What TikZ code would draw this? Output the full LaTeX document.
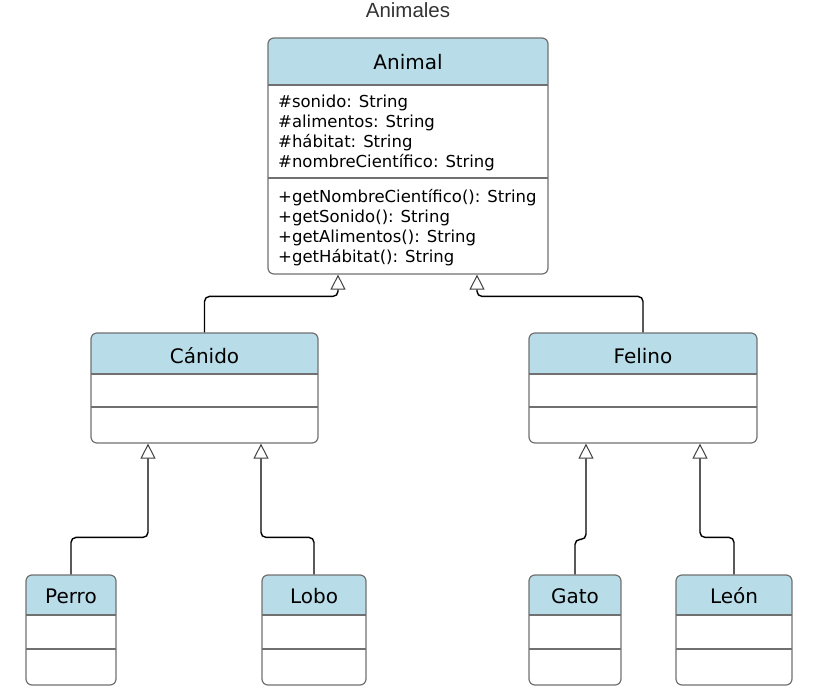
\documentclass[tikz,border=0pt]{standalone}
\usepackage{fontspec}
\setmainfont{DejaVu Sans}
\newfontfamily\titlefont{Liberation Sans}
\usetikzlibrary{arrows.meta,calc}
\definecolor{hdrblue}{HTML}{B8DDE8}
\definecolor{boxgray}{HTML}{707070}
\definecolor{titlegray}{HTML}{333333}
\newcommand\umlclass[7]{%
  \begin{scope}
    \clip[rounded corners=6pt] (#2,#3) rectangle (#4,#5);
    \fill[hdrblue] (#2,#3) rectangle (#4,#6);
  \end{scope}
  \draw[sepline] (#2,#6) -- (#4,#6);
  \draw[sepline] (#2,#7) -- (#4,#7);
  \node[classbox, minimum width={#4-#2}, minimum height={#5-#3}] (#1) at ({(#2+#4)/2},{(#3+#5)/2}) {};
}
\begin{document}
\begin{tikzpicture}[x=1pt,y=-1pt,
  classbox/.style={draw=boxgray, line width=1.2pt, rounded corners=6pt, inner sep=0pt},
  sepline/.style={draw=boxgray, line width=1.2pt},
  hdrtext/.style={font=\fontsize{20}{24}\selectfont, anchor=base, inner sep=0pt},
  membertext/.style={font=\fontsize{16.5}{20}\selectfont, anchor=base west, inner sep=0pt},
  inherit/.style={draw=black, line width=1.4pt, rounded corners=5pt, -{Triangle[open, length=15pt, width=15pt, line width=1pt, color=black!75]}},
]
\useasboundingbox (0,0) rectangle (816,692);

\node[font=\titlefont\fontsize{20.5}{23}\selectfont, text=titlegray, anchor=base, inner sep=0pt] (title) at (408,18) {Animales};

\umlclass{animal}{268}{38}{548}{274}{85}{178}
\umlclass{canido}{91}{333}{318}{443}{374}{407}
\umlclass{felino}{529}{333}{757}{443}{374}{407}
\umlclass{perro}{26}{575}{116}{685}{615}{649}
\umlclass{lobo}{262}{575}{366}{685}{615}{649}
\umlclass{gato}{529}{575}{621}{685}{615}{649}
\umlclass{leon}{676}{575}{792}{685}{615}{649}

\node[hdrtext] (animalname) at (408,70) {Animal};
\node[hdrtext] (canidoname) at (204.5,363) {Cánido};
\node[hdrtext] (felinoname) at (643,363) {Felino};
\node[hdrtext] (perroname) at (71,603) {Perro};
\node[hdrtext] (loboname) at (314,603) {Lobo};
\node[hdrtext] (gatoname) at (575,603) {Gato};
\node[hdrtext] (leonname) at (734,603) {León};

\node[membertext] (a1) at (278,108) {\#sonido: String};
\node[membertext] (a2) at (278,128) {\#alimentos: String};
\node[membertext] (a3) at (278,148) {\#hábitat: String};
\node[membertext] (a4) at (278,168) {\#nombreCientífico: String};
\node[membertext] (m1) at (278,203) {+getNombreCientífico(): String};
\node[membertext] (m2) at (278,223) {+getSonido(): String};
\node[membertext] (m3) at (278,243) {+getAlimentos(): String};
\node[membertext] (m4) at (278,263) {+getHábitat(): String};

\draw[inherit] (canido.north) -- ++(0,-36) -| ($(animal.south)+(-70,0)$);
\draw[inherit] (felino.north) -- ++(0,-36) -| ($(animal.south)+(69,0)$);
\draw[inherit] (perro.north) -- ++(0,-37) -| ($(canido.south)+(-56.5,0)$);
\draw[inherit] (lobo.north) -- ++(0,-37) -| ($(canido.south)+(56.5,0)$);
\draw[inherit] (gato.north) -- ++(0,-35) -| ($(felino.south)+(-57,0)$);
\draw[inherit] (leon.north) -- ++(0,-37) -| ($(felino.south)+(57,0)$);
\end{tikzpicture}
\end{document}
